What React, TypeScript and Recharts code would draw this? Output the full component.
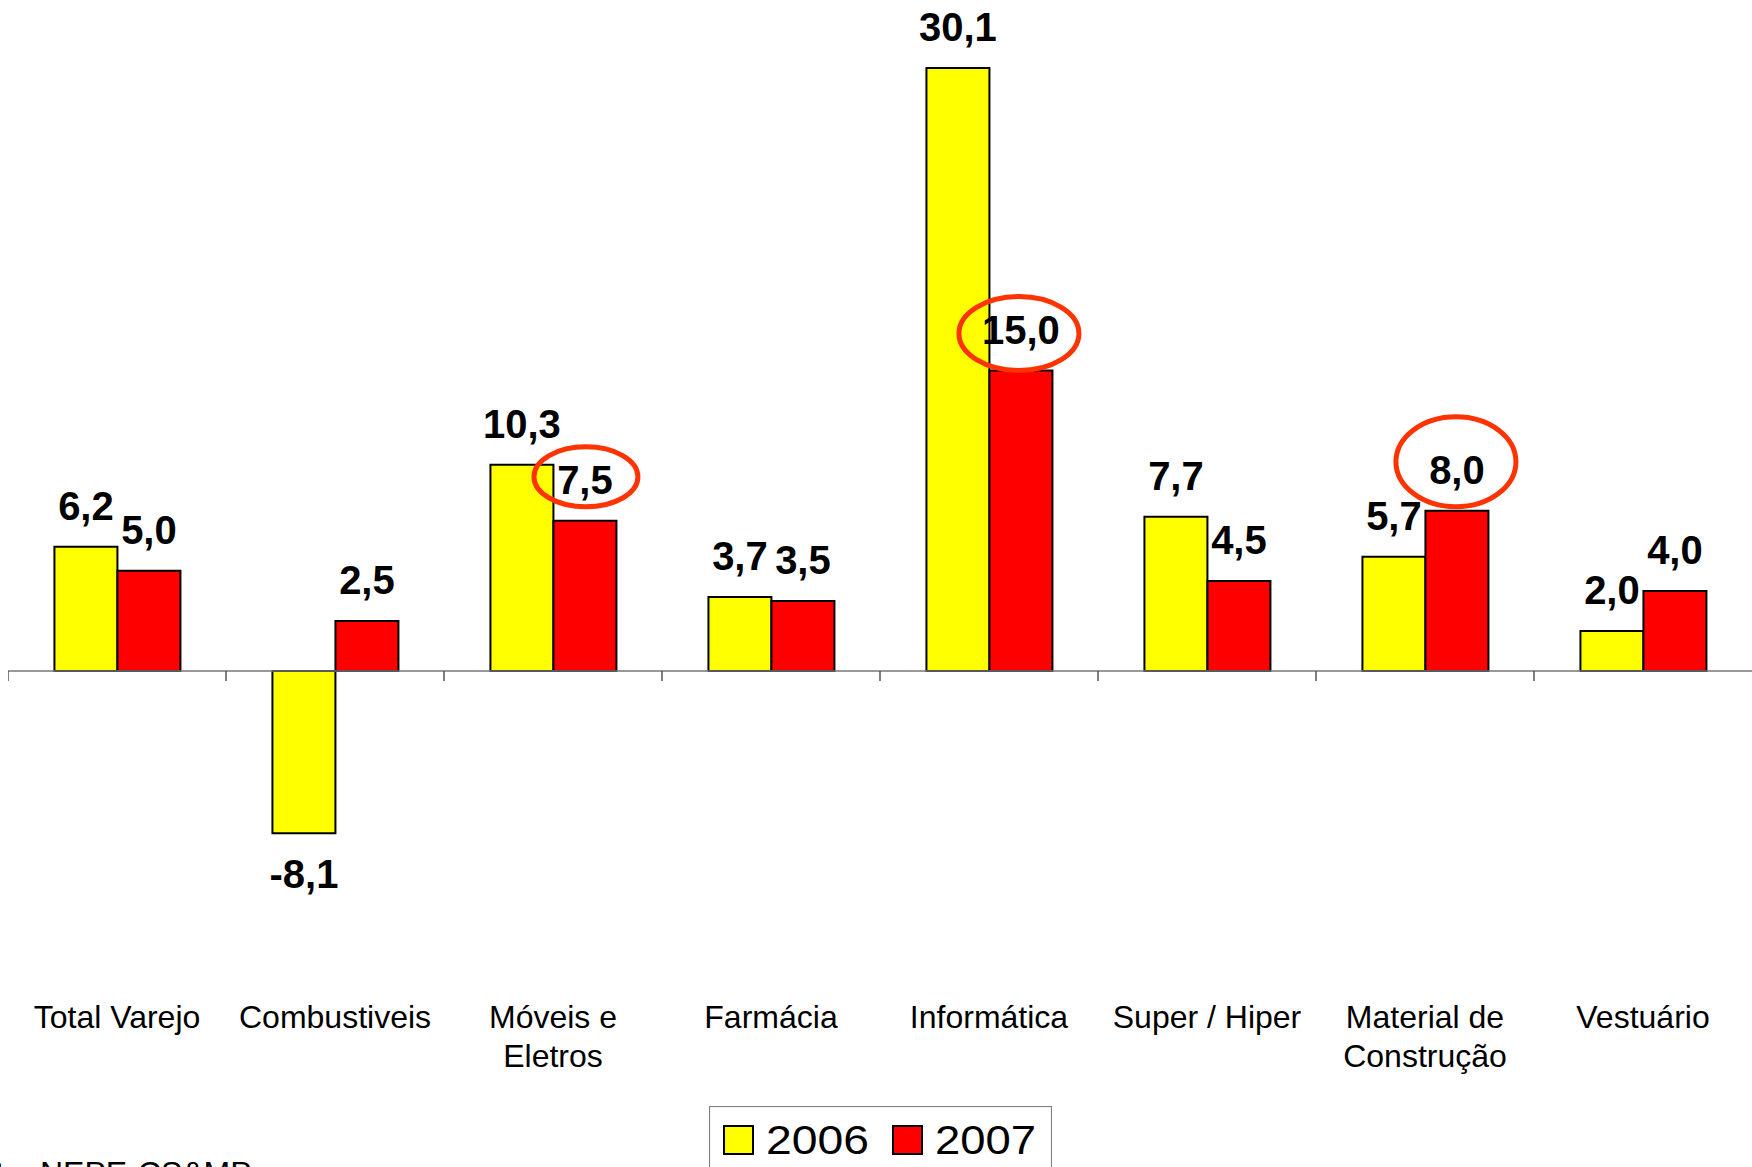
import React from 'react';
import { BarChart, Bar, XAxis, YAxis, LabelList, ReferenceLine, Legend } from 'recharts';

// ---- data ----
const categories = [
  'Total Varejo',
  'Combustiveis',
  'Móveis e Eletros',
  'Farmácia',
  'Informática',
  'Super / Hiper',
  'Material de Construção',
  'Vestuário',
];
const categoryLines = [
  ['Total Varejo'],
  ['Combustiveis'],
  ['Móveis e', 'Eletros'],
  ['Farmácia'],
  ['Informática'],
  ['Super / Hiper'],
  ['Material de', 'Construção'],
  ['Vestuário'],
];
const values2006 = [6.2, -8.1, 10.3, 3.7, 30.1, 7.7, 5.7, 2.0];
const values2007 = [5.0, 2.5, 7.5, 3.5, 15.0, 4.5, 8.0, 4.0];
const seriesNames = ['2006', '2007'];
const highlighted2007 = ['Móveis e Eletros', 'Informática', 'Material de Construção'];
const yDomain = [-15, 32];
const sourceText = ['Fonte:', 'NEPE-CS&MP'];

const data = categories.map((c, i) => ({
  category: c,
  v2006: values2006[i],
  v2007: values2007[i],
}));

// ---- styles ----
const FONT = '"Liberation Sans", Arial, Helvetica, sans-serif';
const YELLOW = '#FFFF00';
const RED = '#FF0000';
const RING = '#FF3300';
// ellipse [rx, ry, dy, dx] per highlighted category
const ellipseShape: Record<string, number[]> = {
  'Móveis e Eletros': [52, 30, -3, 1],
  'Informática': [60, 37, 4, -2],
  'Material de Construção': [60, 45, -8, -1],
};

const fmt = (v: number) => v.toFixed(1).replace('.', ',');

const makeLabel = (series: string) => (props: any) => {
  const { x, y, width, height, value, index } = props;
  const v = Number(value);
  const top = Math.min(y, y + height);
  const bottom = Math.max(y, y + height);
  const cx = x + width / 2;
  const baseline = v < 0 ? bottom + 55 : top - 27;
  const cat = categories[index];
  const ring = series === '2007' && highlighted2007.includes(cat) ? ellipseShape[cat] : null;
  return (
    <g>
      {ring && (
        <ellipse
          cx={cx + ring[3]}
          cy={baseline - 14 + ring[2]}
          rx={ring[0]}
          ry={ring[1]}
          fill="none"
          stroke={RING}
          strokeWidth={5}
        />
      )}
      <text
        x={cx}
        y={baseline}
        textAnchor="middle"
        fontSize={40}
        fontWeight="bold"
        fontFamily={FONT}
        fill="#000"
      >
        {fmt(v)}
      </text>
    </g>
  );
};

const CategoryTick = (props: any) => {
  const { x, y, payload } = props;
  const idx = categories.indexOf(payload.value);
  const lines = idx >= 0 ? categoryLines[idx] : [String(payload.value)];
  return (
    <g>
      {lines.map((l, i) => (
        <text
          key={i}
          x={x}
          y={y + 56.5 + i * 39}
          textAnchor="middle"
          fontSize={32}
          fontFamily={FONT}
          fill="#000"
        >
          {l}
        </text>
      ))}
    </g>
  );
};

const LegendBox = () => (
  <div style={{ width: '100%', height: 66 }}>
    <svg width={343} height={66} style={{ display: 'block', margin: '0 auto' }}>
      <rect x={0.5} y={0.5} width={342} height={70} fill="#fff" stroke="#808080" strokeWidth={1.2} />
      <rect x={15} y={20} width={29} height={28} fill={YELLOW} stroke="#000" strokeWidth={2} />
      <text x={57} y={48} fontSize={40} fontFamily={FONT} fill="#000" textLength={103} lengthAdjust="spacingAndGlyphs">
        {seriesNames[0]}
      </text>
      <rect x={184} y={20} width={29} height={28} fill={RED} stroke="#000" strokeWidth={2} />
      <text x={226} y={48} fontSize={40} fontFamily={FONT} fill="#000" textLength={101} lengthAdjust="spacingAndGlyphs">
        {seriesNames[1]}
      </text>
    </svg>
  </div>
);

export default function App() {
  return (
    <div
      style={{
        position: 'fixed',
        left: 0,
        top: 0,
        width: 1752,
        height: 1167,
        overflow: 'hidden',
        background: '#fff',
      }}
    >
      <div style={{ position: 'absolute', left: 8, top: 8, width: 1744, height: 1200 }}>
        <BarChart
          width={1744}
          height={1200}
          data={data}
          margin={{ top: 22, right: 0, bottom: 36, left: 0 }}
          barCategoryGap="21.3%"
          barGap={0}
        >
          <XAxis
            dataKey="category"
            axisLine={false}
            tickLine={false}
            tickSize={0}
            tickMargin={0}
            height={134.5}
            interval={0}
            tick={<CategoryTick />}
          />
          <YAxis hide domain={yDomain} type="number" />
          <ReferenceLine y={0} stroke="#777" strokeWidth={1.5} />
          {categories.map((c) => (
            <ReferenceLine
              key={c}
              segment={[
                { x: c, y: 0 },
                { x: c, y: -0.5 },
              ]}
              position="start"
              stroke="#555"
              strokeWidth={1.5}
            />
          ))}
          <Legend verticalAlign="bottom" align="center" layout="horizontal" content={<LegendBox />} />
          <Bar dataKey="v2006" name={seriesNames[0]} fill={YELLOW} stroke="#000" strokeWidth={2} isAnimationActive={false}>
            <LabelList dataKey="v2006" content={makeLabel('2006')} />
          </Bar>
          <Bar dataKey="v2007" name={seriesNames[1]} fill={RED} stroke="#000" strokeWidth={2} isAnimationActive={false}>
            <LabelList dataKey="v2007" content={makeLabel('2007')} />
          </Bar>
        </BarChart>
      </div>
      <svg
        width={1752}
        height={1167}
        style={{ position: 'absolute', left: 0, top: 0, pointerEvents: 'none' }}
      >
        <text x={31} y={1184} textAnchor="end" fontSize={32} fontFamily={FONT} fill="#000">
          {sourceText[0]}
        </text>
        <text x={40} y={1184} fontSize={32} fontFamily={FONT} fill="#000">
          {sourceText[1]}
        </text>
      </svg>
    </div>
  );
}
